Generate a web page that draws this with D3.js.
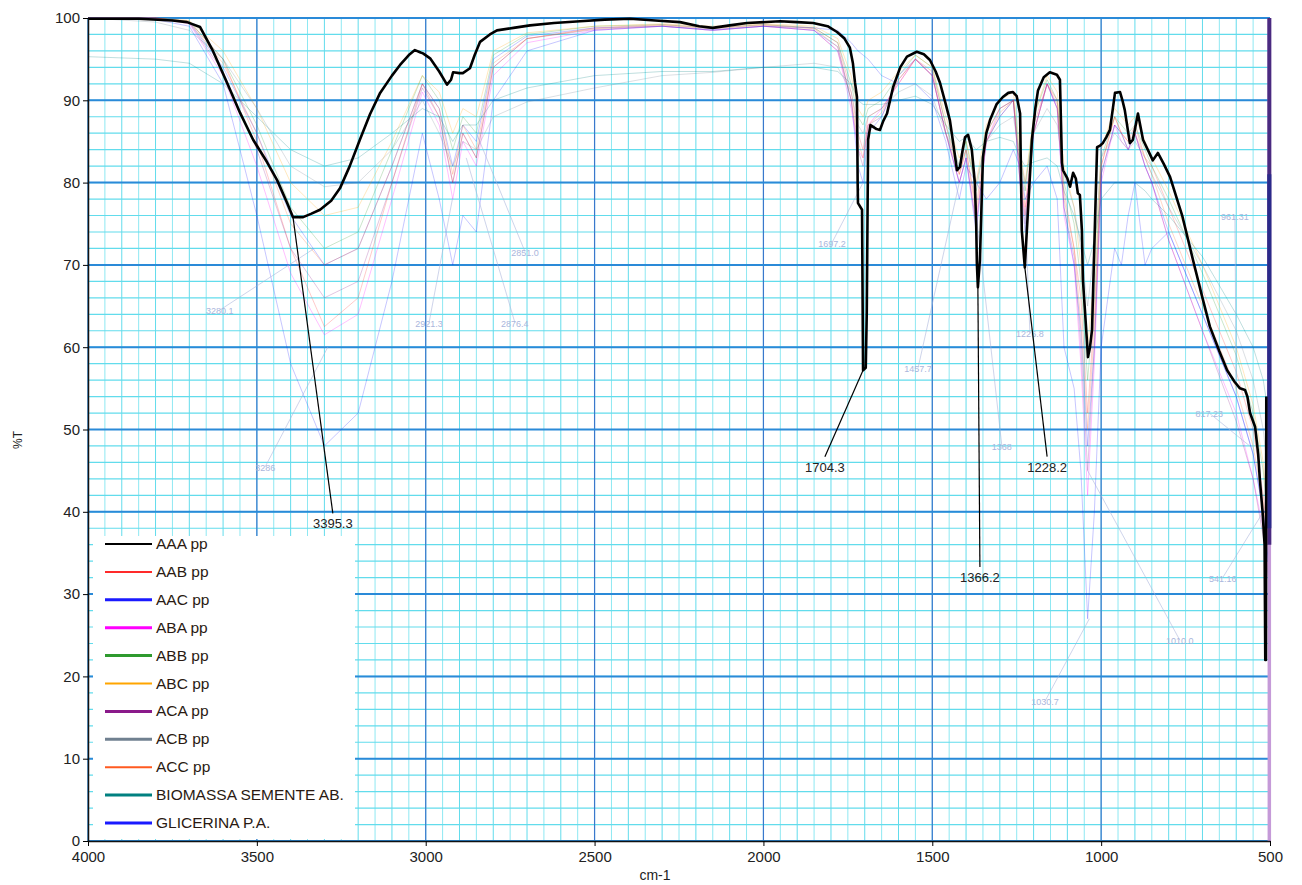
<!DOCTYPE html>
<meta charset="utf-8">
<style>
body { margin: 0; background: #fff; }
svg { font-family: "Liberation Sans", Arial, sans-serif; }
.tick text { font-size: 15px; fill: #222; }
.legend text { font-size: 15.5px; fill: #2a1a12; }
</style>
<svg width="1302" height="885"></svg>
<script src="https://cdn.jsdelivr.net/npm/d3@7"></script>
<script>
// AAA pp (curva principal, preta)
var aaa = [[4000,99.9],[3850,99.9],[3750,99.7],[3707,99.5],[3668,98.9],[3630,96],[3588,92.1],[3550,88.5],[3511,85.2],[3470,82.5],[3440,80.3],[3410,77.5],[3393,75.8],[3363,75.8],[3340,76.2],[3313,76.7],[3280,77.8],[3254,79.3],[3225,82],[3195,85.2],[3165,88.3],[3135,90.9],[3100,93],[3076,94.3],[3050,95.5],[3032,96.1],[3015,95.8],[3008,95.7],[2987,95.1],[2960,93.5],[2937,91.9],[2925,92.5],[2919,93.4],[2900,93.3],[2890,93.3],[2869,93.9],[2855,95.5],[2839,97.1],[2810,98],[2789,98.5],[2740,98.8],[2691,99.1],[2620,99.4],[2543,99.6],[2470,99.8],[2395,99.9],[2320,99.7],[2247,99.5],[2190,99],[2150,98.8],[2100,99.1],[2049,99.4],[1951,99.6],[1900,99.5],[1853,99.4],[1810,99],[1782,98.3],[1760,97.5],[1744,96.4],[1735,94.5],[1729,92.2],[1723,90.4],[1721,80],[1720,77.5],[1708,76.7],[1705,57.2],[1697,57.5],[1694,64.2],[1690,85.2],[1683,87],[1676,86.8],[1665,86.5],[1655,86.4],[1645,87.5],[1634,88.4],[1616,91.6],[1595,94],[1575,95.3],[1546,95.9],[1525,95.6],[1507,94.9],[1490,93.5],[1477,92.1],[1460,89.5],[1448,87.6],[1437,84.5],[1427,81.5],[1418,81.9],[1410,84],[1403,85.5],[1394,85.8],[1383,84],[1374,80],[1370,75],[1368,70.2],[1365,67.3],[1359,70.6],[1350,83.1],[1340,86],[1329,87.6],[1310,89.5],[1291,90.4],[1275,90.9],[1261,91],[1250,90.5],[1240,88.4],[1237,80],[1235,74.2],[1226,69.7],[1220,74.2],[1212,80],[1205,85.2],[1195,89],[1187,91.2],[1170,92.8],[1152,93.4],[1131,93.1],[1122,92.5],[1116,82.4],[1113,81.5],[1100,80.5],[1092,79.5],[1083,81.2],[1075,80.5],[1069,78.7],[1063,78.5],[1057,74.2],[1054,68.2],[1048,64.5],[1039,58.8],[1033,60],[1027,62.1],[1018,75.5],[1012,84.3],[1003,84.5],[995,84.8],[985,85.5],[974,86.4],[967,88.5],[959,90.9],[944,91],[937,90],[930,88.8],[915,84.8],[906,85.2],[891,88.4],[876,85.2],[862,84],[847,82.7],[832,83.6],[815,82.3],[796,80.7],[760,76],[728,70.6],[700,66],[678,62.5],[650,59.5],[627,57.2],[605,55.8],[589,55],[574,54.8],[567,54],[559,52],[544,50.3],[535,47],[530,43.9],[522,40],[516,36],[514,22],[512,22],[511,54]];

// numeros de onda comuns das outras amostras
var fWn = [4000,3800,3700,3600,3500,3400,3300,3200,3100,3010,2960,2920,2890,2850,2800,2700,2500,2300,2150,2000,1850,1780,1740,1720,1705,1690,1650,1600,1550,1500,1460,1420,1400,1370,1340,1300,1260,1240,1225,1200,1160,1130,1110,1080,1060,1040,1020,1000,960,940,920,900,870,850,800,700,600,550,520,505];

var aab = [100,100,99.6,95,85, 72,62.5,66,80,92, 88,80,86,83,94, 97.5,98.8,99.2,98.8,99.2, 98.8,97,91,86,84, 88,89,92,95,93.5, 87,81,84,77,86, 89,90,82,77,87, 92,90,79,72,66, 52,64,82,88,86, 85,87,83,82,77, 67,57,50,42,36];
var aac = [100,100,99.5,94,86, 76,70,72,82,92, 89,82,87,85,95, 97.8,98.8,99,98.6,99, 98.5,96.5,90,82,80, 86,88,93,95,93, 86,80,83,74,85, 88,90,80,74,86, 92,89,77,70,62, 48,60,81,87,86, 84,86,82,80,74, 64,54,47,40,34];
var aba = [100,100,99.3,93,82, 69,61.5,64,78,91, 87,78,85,82,93, 97,98.5,99,98.5,99, 98.5,96,89,84,83, 87,89,92,95,93, 86,80,83,75,85, 89,90,80,76,86, 92,89,76,70,58, 42,58,80,87,85, 84,86,82,80,73, 62,52,44,38,33];
var abb = [100,100,99.6,95,87, 77,72,74,84,93, 90,84,88,86,95.5, 98,99,99.2,98.8,99.2, 98.8,97,92,88,87, 89,90,93,95.5,94, 87,82,85,79,86, 89,90,83,79,88, 92.5,90,80,75,68, 56,66,83,88,87, 86,87,84,82,78, 69,59,52,45,38];
var abc = [100,100,99.7,96,89, 80,76,77,85,93, 91,86,89,88,96, 98.2,99,99.3,99,99.3, 99,97.5,93,89,88, 90,91,93.5,95.5,94, 88,83,85,80,87, 90,91,84,80,88, 93,91,82,77,70, 60,69,84,89,88, 87,88,85,83,79, 70,60,53,46,39];
var aca = [100,100,99.4,93.5,84, 72,66,68,80,91.5, 88,80,86,83,94, 97.5,98.6,99,98.5,99, 98.5,96,90,84,82, 87,88,92.5,95,93, 86,80,83,75,85, 88,90,80,75,86, 92,89,77,71,60, 45,60,81,87,86, 84,86,82,80,73, 62,51,44,37,32];
var acb = [100,99.5,98.5,95,89, 82,79.5,80,84,90, 86,82,85,84,88, 89.8,91.5,93,93.4,94, 94.5,94,91,87,86, 88,89,91,92,90.5, 86,82,84,80,85, 87,88,83,80,86, 89,87,81,77,72, 65,72,83,86,85, 84,85,83,81,77, 70,62,56,50,44];
var acc = [100,100,99.5,94.5,86, 75,70,72,82,92, 89,81,87,84,94.5, 97.5,98.7,99.1,98.7,99.1, 98.7,96.5,90,85,83, 87,88.5,92.5,95,93, 86,81,84,76,85, 88.5,90,81,76,86, 92,89.5,78,72,63, 50,62,82,88,86, 85,86,83,81,75, 65,55,48,41,35];
var bio = [95.3,95,94.5,92,88, 84,82,83,86,89, 88,85,87,87,90, 91.5,93,93.5,93.5,94, 94,93.5,92,90,89.5, 89.5,89.5,90,90.5,89.5, 87,85,85.5,84,85, 85.5,85,83,82,82.5, 83,82,79,76,73, 70,73,78,80,80, 80,80,79,78,76, 71,64,60,56,52];
var gli = [100,99.8,99,92,76, 58,48,52,68,86, 78,70,76,74,90, 96,98.5,99,98.5,99, 98.8,98.5,97,96,95.5, 95,93,92,92,90, 85,78,82,80,78, 80,84,82,78,80, 82,78,60,55,45, 27,40,60,72,70, 76,80,70,72,74, 64,54,47,40,34];

var legendNames = ["AAA pp","AAB pp","AAC pp","ABA pp","ABB pp","ABC pp","ACA pp","ACB pp","ACC pp","BIOMASSA SEMENTE AB.","GLICERINA P.A."];
var legendColors = ["#000000","#ff2a2a","#1a1aff","#ff00ff","#2e9a2e","#ffa500","#8a1a8a","#708090","#ff5a20","#008080","#1a1aff"];
var fainted = [aab,aac,aba,abb,abc,aca,acb,acc,bio,gli];

var xTicks = [4000,3500,3000,2500,2000,1500,1000,500];
var yTicks = [0,10,20,30,40,50,60,70,80,90,100];

// picos marcados: [pico cm-1, %T do pico, fim da linha cm-1, fim %T, texto]
var peakLabels = [[3393,75.8,3275,39.8,"3395.3"],[1705,57.2,1818,46.7,"1704.3"],[1365,67.3,1359,33.3,"1366.2"],[1226,69.7,1160,46.7,"1228.2"]];
var faintLabels = [[3330,72,3610,64.5,"3280.1"],[3290,60,3475,45.5,"3286"],[2921,78,2990,63,"2921.3"],[2880,83,2736,63,"2876.4"],[2850,86,2706,71.6,"2851.0"],[1705,80,1797,72.7,"1697.2"],[1420,80,1542,57.5,"1457.7"],[1370,76,1294,48,"1368"],[1225,77,1211,61.7,"1226.8"],[1035,27,1166,17,"1030.7"],[1040,45,767,24.4,"1010.0"],[600,55,604,76,"961.31"],[560,48,680,52,"817.23"],[520,40,640,32,"541.16"]];

var svg = d3.select("svg");
var x = d3.scaleLinear().domain([4000,500]).range([88,1270]);
var y = d3.scaleLinear().domain([0,100]).range([841,18]);

// grade
var g = svg.append("g");
g.selectAll(".vmin").data(d3.range(500,4001,50)).enter().append("line")
  .attr("x1",d=>x(d)).attr("x2",d=>x(d)).attr("y1",y(0)).attr("y2",y(100))
  .attr("stroke",d=>d%100==0 ? "#62dcec" : "#8ee8f2").attr("stroke-width",1);
g.selectAll(".hmin").data(d3.range(0,101,2)).enter().append("line")
  .attr("x1",x(4000)).attr("x2",x(500)).attr("y1",d=>y(d)).attr("y2",d=>y(d))
  .attr("stroke","#62dcec").attr("stroke-width",1.2);
g.selectAll(".vmaj").data(xTicks).enter().append("line")
  .attr("x1",d=>x(d)).attr("x2",d=>x(d)).attr("y1",y(0)).attr("y2",y(100))
  .attr("stroke","#3a78cc").attr("stroke-width",1.2);
g.selectAll(".hmaj").data(yTicks).enter().append("line")
  .attr("x1",x(4000)).attr("x2",x(500)).attr("y1",d=>y(d)).attr("y2",d=>y(d))
  .attr("stroke","#2a8ad8").attr("stroke-width",2);

// amostras (apagadas)
var line = d3.line().x(d=>x(d[0])).y(d=>y(d[1]));
svg.append("g").selectAll("path").data(fainted).enter().append("path")
  .attr("d",d=>line(d.map((v,i)=>[fWn[i],v])))
  .attr("fill","none").attr("stroke",(d,i)=>legendColors[i+1])
  .attr("stroke-width",1).attr("opacity",0.25);

// rotulos apagados
var fl = svg.append("g");
fl.selectAll("line").data(faintLabels).enter().append("line")
  .attr("x1",d=>x(d[0])).attr("y1",d=>y(d[1])).attr("x2",d=>x(d[2])).attr("y2",d=>y(d[3]))
  .attr("stroke","#a8b4dc").attr("stroke-width",0.8).attr("opacity",0.7);
fl.selectAll("text").data(faintLabels).enter().append("text")
  .attr("x",d=>x(d[2])).attr("y",d=>y(d[3])+4).attr("text-anchor","middle")
  .attr("font-size",9).attr("fill","#aab6dc").text(d=>d[4]);

// barra final em 500
svg.append("line").attr("x1",x(502)).attr("x2",x(502)).attr("y1",y(100)).attr("y2",y(0))
  .attr("stroke","#c59ad8").attr("stroke-width",3.5);
svg.append("line").attr("x1",x(502)).attr("x2",x(502)).attr("y1",y(100)).attr("y2",y(36))
  .attr("stroke","#4a2a80").attr("stroke-width",4);
svg.append("line").attr("x1",x(502)).attr("x2",x(502)).attr("y1",y(81)).attr("y2",y(38))
  .attr("stroke","#2a2a8a").attr("stroke-width",4);

// AAA
svg.append("path").attr("d",line(aaa)).attr("fill","none")
  .attr("stroke","#000").attr("stroke-width",2.6).attr("stroke-linejoin","round");

// picos marcados
var pl = svg.append("g");
pl.selectAll("line").data(peakLabels).enter().append("line")
  .attr("x1",d=>x(d[0])).attr("y1",d=>y(d[1])).attr("x2",d=>x(d[2])).attr("y2",d=>y(d[3]))
  .attr("stroke","#000").attr("stroke-width",1.2);
pl.selectAll("text").data(peakLabels).enter().append("text")
  .attr("x",d=>x(d[2])).attr("y",d=>y(d[3])+15).attr("text-anchor","middle")
  .attr("font-size",13).attr("fill","#222").text(d=>d[4]);

// eixos
svg.append("g").attr("transform","translate(0,"+y(0)+")")
  .call(d3.axisBottom(x).tickValues(xTicks).tickFormat(d3.format("d")).tickSize(5).tickSizeOuter(0).tickPadding(5))
  .call(a=>a.select(".domain").attr("stroke","#111").attr("stroke-width",1.5));
svg.append("g").attr("transform","translate("+x(4000)+",0)")
  .call(d3.axisLeft(y).tickValues(yTicks).tickFormat(d3.format("d")).tickSize(5).tickSizeOuter(0).tickPadding(3))
  .call(a=>a.select(".domain").attr("stroke","#111").attr("stroke-width",1.5));

svg.append("text").attr("x",655).attr("y",880).attr("text-anchor","middle")
  .attr("font-size",14).attr("fill","#222").text("cm-1");
svg.append("text").attr("transform","translate(22,440) rotate(-90)").attr("text-anchor","middle")
  .attr("font-size",12).attr("fill","#222").text("%T");

// legenda
var lg = svg.append("g").attr("class","legend");
lg.append("rect").attr("x",93).attr("y",536).attr("width",262).attr("height",303).attr("fill","#fff");
var rows = lg.selectAll("g").data(legendNames).enter().append("g")
  .attr("transform",(d,i)=>"translate(0,"+(544+i*27.9)+")");
rows.append("line").attr("x1",105).attr("x2",152).attr("y1",0).attr("y2",0)
  .attr("stroke",(d,i)=>legendColors[i]).attr("stroke-width",(d,i)=>[2,3,4,6,7,9,10].indexOf(i)>=0 ? 3 : 2);
rows.append("text").attr("x",156).attr("y",5).text(d=>d);
</script>
